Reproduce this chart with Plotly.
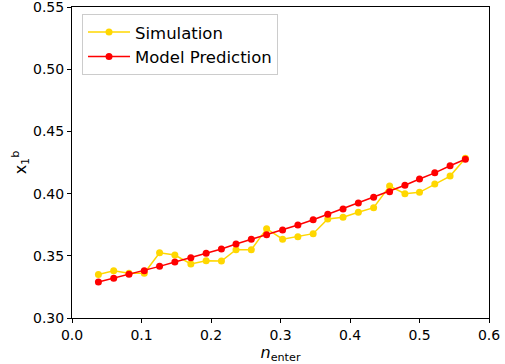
import plotly.graph_objects as go

n_enter = [0.038, 0.060, 0.082, 0.104, 0.126, 0.148, 0.171, 0.193, 0.215, 0.236,
           0.258, 0.280, 0.303, 0.325, 0.347, 0.368, 0.390, 0.412, 0.434, 0.457,
           0.479, 0.500, 0.522, 0.544, 0.566]
simulation = [0.335, 0.338, 0.336, 0.336, 0.3525, 0.3506, 0.3434, 0.3461, 0.3458, 0.3549,
              0.3549, 0.3718, 0.3633, 0.3654, 0.3678, 0.3796, 0.3810, 0.3850, 0.3887, 0.4061,
              0.3999, 0.4010, 0.4077, 0.4141, 0.4284]
model = [0.3289, 0.3319, 0.3351, 0.3380, 0.3415, 0.3450, 0.3485, 0.3520, 0.3555, 0.3595,
         0.3633, 0.3670, 0.3707, 0.3748, 0.3790, 0.3834, 0.3876, 0.3924, 0.3970, 0.4015,
         0.4067, 0.4117, 0.4167, 0.4224, 0.4276]

x_ticks = [0.0, 0.1, 0.2, 0.3, 0.4, 0.5, 0.6]
y_ticks = [0.30, 0.35, 0.40, 0.45, 0.50, 0.55]

fig = go.Figure()
fig.add_trace(go.Scatter(x=n_enter, y=simulation, mode="lines+markers", name="Simulation",
                         line=dict(color="#FFD700", width=1.5),
                         marker=dict(color="#FFD700", size=7)))
fig.add_trace(go.Scatter(x=n_enter, y=model, mode="lines+markers", name="Model Prediction",
                         line=dict(color="#FF0000", width=1.5),
                         marker=dict(color="#FF0000", size=7)))

axis_common = dict(showgrid=False, zeroline=False, showline=True, linecolor="black",
                   linewidth=1, mirror=True, ticks="outside", ticklen=4, tickwidth=1,
                   tickcolor="black", automargin=False, ticklabeloverflow="allow",
                   tickfont=dict(family="DejaVu Sans", size=14, color="black"))

fig.update_xaxes(range=[0, 0.6], tickvals=x_ticks, tickformat=".1f",
                 title=dict(text="<i>n</i><sub>enter</sub>", standoff=6,
                            font=dict(family="DejaVu Sans", size=16, color="black")),
                 **axis_common)
fig.update_yaxes(range=[0.30, 0.55], tickvals=y_ticks, tickformat=".2f",
                 title=dict(text="x<sub>1</sub><sup>b</sup>", standoff=2,
                            font=dict(family="DejaVu Sans", size=16, color="black")),
                 **axis_common)

fig.update_layout(
    width=505, height=364,
    margin=dict(l=72, r=16, t=7, b=46, autoexpand=False),
    paper_bgcolor="white", plot_bgcolor="white",
    font=dict(family="DejaVu Sans", size=14, color="black"),
    legend=dict(x=0.024, y=0.978, xanchor="left", yanchor="top", itemwidth=42,
                bgcolor="rgba(255,255,255,0.8)", bordercolor="#cccccc", borderwidth=1,
                font=dict(family="DejaVu Sans", size=16.5, color="black")),
    showlegend=True,
)

fig.write_html("out.html", config={"displayModeBar": False},
               post_script="document.body.style.margin='0';document.body.style.padding='0';")
